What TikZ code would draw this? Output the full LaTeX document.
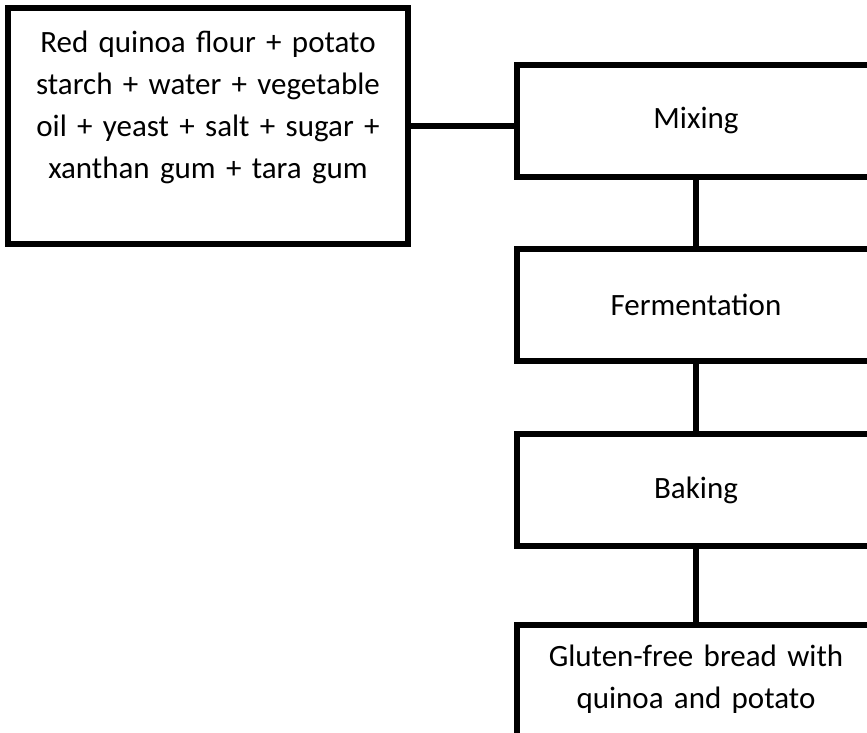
\documentclass[tikz,border=0pt]{standalone}
\usepackage{fontspec}
\setmainfont{Carlito}
\begin{document}
\begin{tikzpicture}[x=1pt,y=-1pt]
\tikzset{stepbox/.style={draw, line width=6pt, rectangle, align=center, inner sep=0pt, minimum width=358pt, minimum height=112pt, font=\fontsize{31}{42}\selectfont}}
\useasboundingbox (0,0) rectangle (867,733);
\clip (0,0) rectangle (867,733);
\node[stepbox, minimum width=400pt, minimum height=236pt, text width=390pt] (ingredients) at (208,126) {Red quinoa flour + potato\\starch + water + vegetable\\oil + yeast + salt + sugar +\\xanthan gum + tara gum\\ \mbox{}};
\node[stepbox] (mixing) at (696,121) {Mixing};
\node[stepbox] (fermentation) at (696,305) {Fermentation};
\node[stepbox] (baking) at (696,490) {Baking};
\node[stepbox, minimum height=146pt, text width=340pt, anchor=north] (bread) at (696,622) {Gluten-free bread with\\quinoa and potato\\ \mbox{}};

\draw[line width=6pt] (ingredients.east) -- (ingredients.east -| mixing.west);
\draw[line width=6pt] (mixing) -- (fermentation);
\draw[line width=6pt] (fermentation) -- (baking);
\draw[line width=6pt] (baking) -- (bread);
\end{tikzpicture}
\end{document}
